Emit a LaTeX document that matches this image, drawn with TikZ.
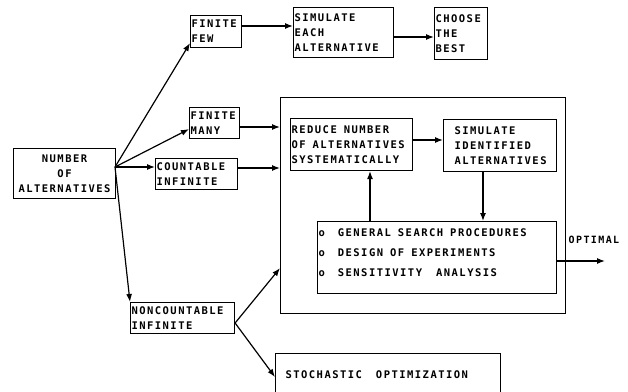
\documentclass[tikz,border=0pt]{standalone}
\usepackage{fontspec}
\setmainfont{DejaVu Sans Mono}[LetterSpace=14]
\usetikzlibrary{arrows.meta,calc}
\newcommand\wsp{\hspace{7pt}}
\begin{document}
\begin{tikzpicture}[x=1pt,y=-1pt,
  box/.style={draw, line width=1.1pt, inner sep=1pt, align=left, anchor=north west,
    font=\fontsize{10.5}{15}\selectfont\bfseries},
  arr/.style={line width=1.2pt, -{Latex[length=8pt,width=6pt]}},
  lbl/.style={inner sep=0pt, font=\fontsize{10}{10}\selectfont\bfseries}]
\useasboundingbox (0,0) rectangle (628,391);
\clip (0,0) rectangle (628,391);

\node[box, align=center, text width=100pt, minimum height=50pt] (num) at (13,148) {NUMBER\\OF\\ALTERNATIVES};
\node[box, text width=49pt, minimum height=32pt] (few) at (190,15) {FINITE\\FEW};
\node[box, text width=98pt, minimum height=50pt] (simeach) at (293,7) {SIMULATE\\EACH\\ALTERNATIVE};
\node[box, text width=51pt, minimum height=52pt] (choose) at (434,7) {CHOOSE\\THE\\BEST};
\node[box, text width=48pt, minimum height=31pt] (many) at (189,107) {FINITE\\MANY};
\node[box, text width=80pt, minimum height=31pt] (count) at (155,158) {COUNTABLE\\INFINITE};
\node[draw, line width=1.1pt, anchor=north west, minimum width=285pt, minimum height=216pt, inner sep=0pt] (big) at (280,97) {};
\node[box, text width=120pt, minimum height=52pt] (reduce) at (290,118) {REDUCE\wsp NUMBER\\OF\wsp ALTERNATIVES\\SYSTEMATICALLY};
\node[box, text width=111pt, minimum height=52pt] (simid) at (443,119) {\hspace*{10pt}SIMULATE\\\hspace*{10pt}IDENTIFIED\\\hspace*{10pt}ALTERNATIVES};
\node[box, text width=237pt, minimum height=72pt, font=\fontsize{10.5}{20}\selectfont\bfseries] (search) at (317,221)
  {\raisebox{5pt}[\height][\depth]{\parbox{237pt}{o\hspace{13pt}GENERAL\wsp SEARCH\wsp PROCEDURES\\o\hspace{13pt}DESIGN\wsp OF\wsp EXPERIMENTS\\o\hspace{13pt}SENSITIVITY\wsp\wsp ANALYSIS}}};
\node[box, text width=102pt, minimum height=31pt] (noncount) at (130,302) {NONCOUNTABLE\\INFINITE};
\node[box, text width=223pt, minimum height=42pt] (stoch) at (275,353) {\hspace*{9pt}STOCHASTIC\wsp\wsp OPTIMIZATION};

\coordinate (numout) at (115,167);
\draw[arr] (numout) -- ($(few.south west)+(0,-5)$);
\draw[arr] (numout) -- ($(many.south west)+(0,-10)$);
\draw[arr] (numout) -- (numout -| count.west);
\draw[arr] (numout) -- (noncount.north west);

\coordinate (a1) at ($(few.north east)+(0,11)$);
\draw[arr] (a1) -- (a1 -| simeach.west);
\coordinate (a2) at ($(simeach.north east)+(0,30)$);
\draw[arr] (a2) -- (a2 -| choose.west);
\coordinate (a3) at ($(many.north east)+(0,20)$);
\draw[arr] (a3) -- (a3 -| big.west);
\coordinate (a4) at ($(count.north east)+(0,10)$);
\draw[arr] (a4) -- (a4 -| big.west);
\coordinate (a5) at ($(reduce.north east)+(0,22)$);
\draw[arr] (a5) -- (a5 -| simid.west);
\coordinate (a6) at ($(search.north west)+(53,0)$);
\draw[arr] (a6) -- (a6 |- reduce.south);
\coordinate (a7) at ($(simid.south west)+(40,0)$);
\draw[arr] (a7) -- (a7 |- search.north);
\coordinate (a8) at ($(search.north east)+(0,40)$);
\coordinate (opt) at (605,261);
\draw[arr] (a8) -- (opt);
\node[lbl] (optlbl) at (594,240) {OPTIMAL};

\coordinate (nc) at ($(noncount.north east)+(0,21)$);
\draw[arr] (nc) -- ($(big.south west)+(0,-46)$);
\draw[arr] (nc) -- ($(stoch.north west)+(0,24)$);
\end{tikzpicture}
\end{document}
